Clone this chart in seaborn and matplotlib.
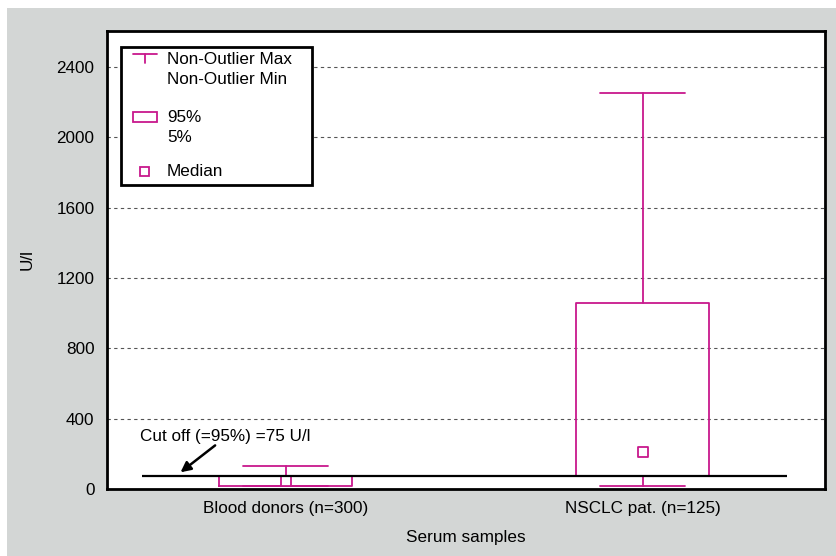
import numpy as np
import pandas as pd
import matplotlib
matplotlib.use("Agg")
import matplotlib.pyplot as plt
from matplotlib.patches import Rectangle
from matplotlib.lines import Line2D
import seaborn as sns

# summary values (U/l)
groups = ["Blood donors (n=300)", "NSCLC pat. (n=125)"]
whisker_min = [17, 17]
p5 = [17, 75]
medians = [45, 210]
p95 = [75, 1058]
whisker_max = [131, 2250]
cutoff = 75
yticks = [0, 400, 800, 1200, 1600, 2000, 2400]

pink = "#c8188c"
bg = "#d3d6d5"
fs = 12.3

sns.set_style("white")
plt.rcParams["font.family"] = ["Liberation Sans", "DejaVu Sans"]
plt.rcParams["text.color"] = "black"
plt.rcParams["axes.labelcolor"] = "black"
plt.rcParams["xtick.color"] = "black"
plt.rcParams["ytick.color"] = "black"

fig = plt.figure(figsize=(8.37, 5.56), dpi=100, facecolor="white")
fig.patches.append(Rectangle((7 / 837, 0), 1, 1 - 8 / 556, transform=fig.transFigure,
                             facecolor=bg, edgecolor="none", zorder=-10))
ax = fig.add_axes([107 / 837, 1 - 489 / 556, 718 / 837, 458 / 556])
ax.set_facecolor("white")

pos = np.arange(1, len(groups) + 1)
stats = []
for i, g in enumerate(groups):
    stats.append(dict(label=g, whislo=whisker_min[i], q1=p5[i], med=medians[i],
                      q3=p95[i], whishi=whisker_max[i], fliers=[]))

ax.bxp(stats, positions=pos, widths=0.373, capwidths=0.238, showfliers=False,
       boxprops=dict(color=pink, lw=1.3),
       whiskerprops=dict(color=pink, lw=1.3),
       capprops=dict(color=pink, lw=1.3),
       medianprops=dict(lw=0))

med_df = pd.DataFrame({"x": pos, "y": medians})
sns.scatterplot(data=med_df, x="x", y="y", marker="s", s=55, facecolor="white",
                edgecolor=pink, linewidth=1.3, ax=ax, zorder=5)

ax.hlines(cutoff, 0.597, 2.404, color="black", lw=1.6, zorder=6)
ax.text(0.591, 301, "Cut off (=95%) =75 U/l", fontsize=fs, va="center", ha="left")
ax.annotate("", xy=(0.705, 95), xytext=(0.802, 248),
            arrowprops=dict(arrowstyle="-|>", color="black", lw=1.8,
                            mutation_scale=15, shrinkA=0, shrinkB=0))

ax.set_xlim(0.499, 2.511)
ax.set_ylim(0, 2605)
ax.set_yticks(yticks)
ax.set_yticklabels([str(t) for t in yticks], fontsize=fs)
ax.set_xticks(pos)
ax.set_xticklabels(groups, fontsize=fs)
ax.tick_params(axis="both", length=0, pad=9)
for t in yticks[1:]:
    ax.axhline(t, color="#555555", lw=0.8, ls=(0, (3, 3)), zorder=0)
for s in ax.spines.values():
    s.set_color("black")
    s.set_linewidth(2)
ax.set_xlabel("Serum samples", fontsize=fs, labelpad=10)
ax.set_ylabel("U/l", fontsize=fs, labelpad=16)

# legend drawn by hand
tr = ax.transAxes
ax.add_patch(Rectangle((0.0195, 0.664), 0.266, 0.301, transform=tr, facecolor="white",
                       edgecolor="black", lw=2, zorder=7))
def px(x, y):
    return (x - 107) / 718, (489 - y) / 458
for (x0, y0), (x1, y1) in [((133, 54), (157, 54)), ((145, 54), (145, 63))]:
    a, b = px(x0, y0)
    c, d = px(x1, y1)
    ax.add_line(Line2D([a, c], [b, d], transform=tr, color=pink, lw=1.3, zorder=8))
a, b = px(133, 122)
ax.add_patch(Rectangle((a, b), 24 / 718, 10 / 458, transform=tr, facecolor="white",
                       edgecolor=pink, lw=1.3, zorder=8))
a, b = px(140, 176)
ax.add_patch(Rectangle((a, b), 9 / 718, 9 / 458, transform=tr, facecolor="white",
                       edgecolor=pink, lw=1.3, zorder=8))
for label, y in [("Non-Outlier Max", 60), ("Non-Outlier Min", 80), ("95%", 117),
                 ("5%", 138), ("Median", 171)]:
    a, b = px(167, y)
    ax.text(a, b, label, transform=tr, fontsize=fs, va="center", ha="left", zorder=9)

fig.savefig("out.png", dpi=100, facecolor="white")
